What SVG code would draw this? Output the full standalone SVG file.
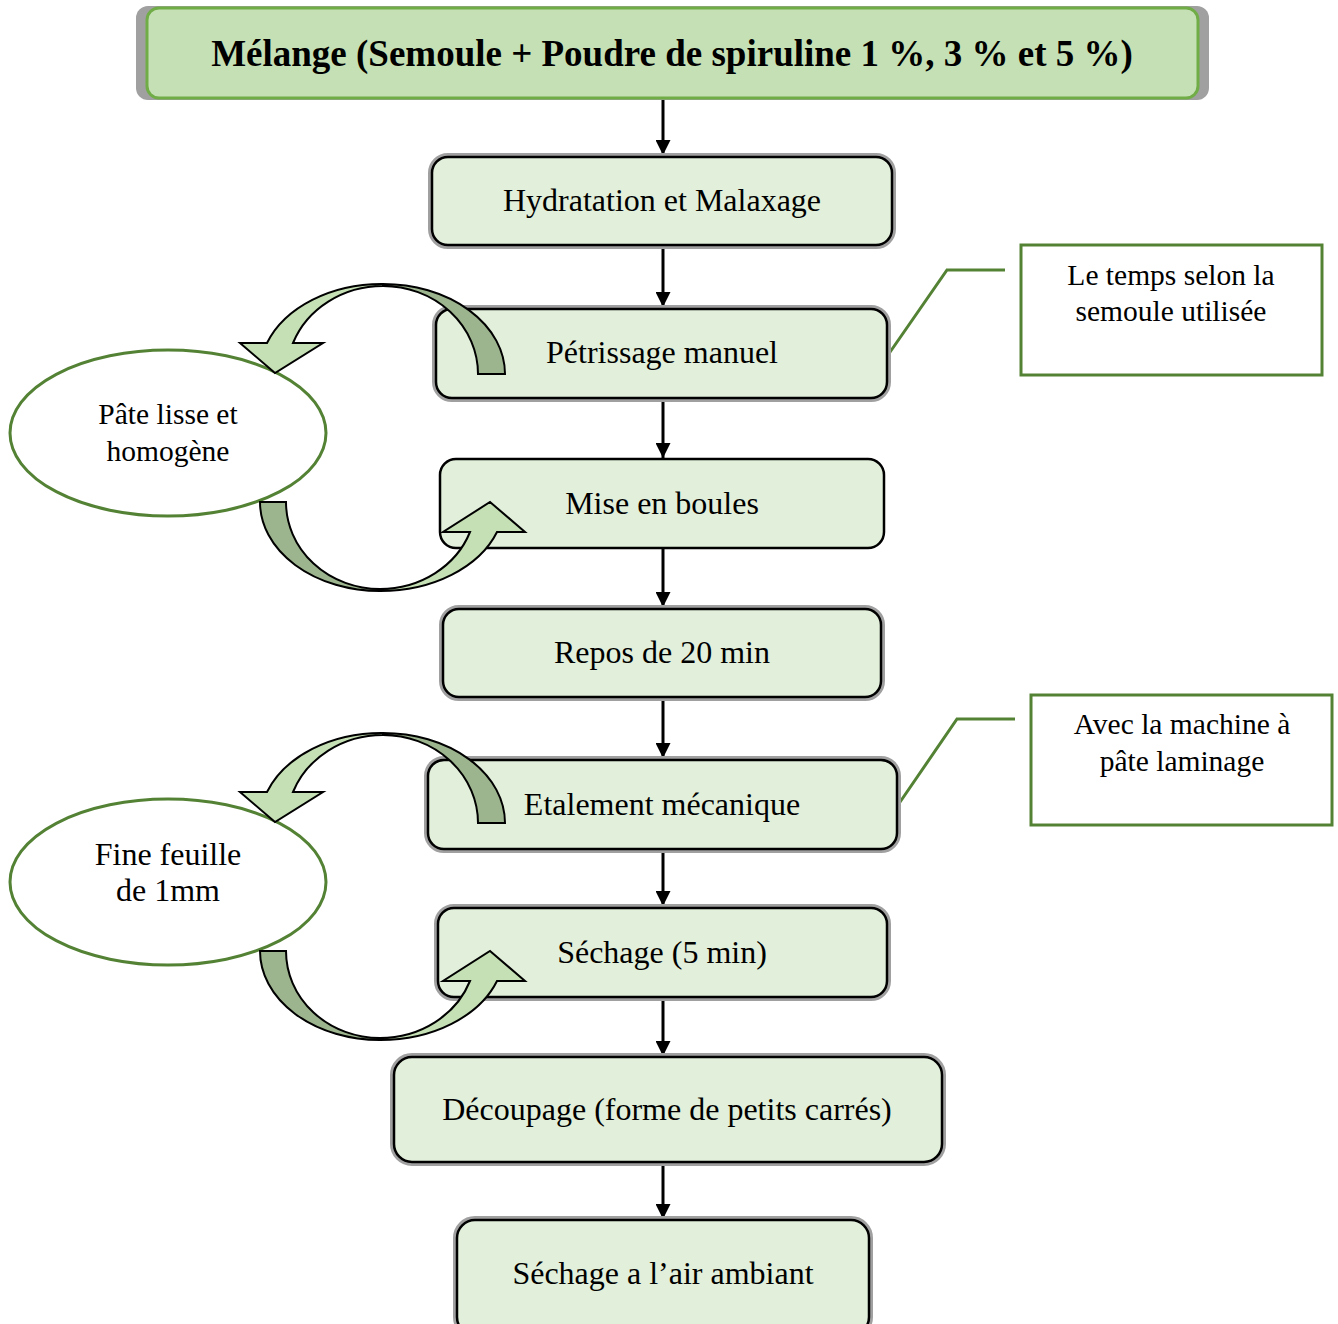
<svg xmlns="http://www.w3.org/2000/svg" width="1338" height="1324" viewBox="0 0 1338 1324">
<style>
.halo{fill:none;stroke:#a0a0a0;stroke-width:8}
.box{fill:#e2efda;stroke:#000;stroke-width:2.5}
.t{font-family:"Liberation Serif","Times New Roman",serif;font-size:32px;fill:#000;text-anchor:middle}
.s{font-family:"Liberation Serif","Times New Roman",serif;font-size:29.5px;fill:#000;text-anchor:middle}
.call{fill:#fff;stroke:#548235;stroke-width:3}
.lead{fill:none;stroke:#548235;stroke-width:3}
.ell{fill:#fff;stroke:#548235;stroke-width:3}
.dark{fill:#9db58e;stroke:#000;stroke-width:2}
.light{fill:#c5e0b4;stroke:#000;stroke-width:2}
.conn{stroke:#000;stroke-width:3;fill:none}
</style>
<defs>
<marker id="ah" viewBox="0 0 10 10" refX="10" refY="5" markerWidth="5" markerHeight="5" markerUnits="strokeWidth" orient="auto">
<path d="M0,0 L10,5 L0,10 z" fill="#000"/>
</marker>
<g id="loopTop">
<path class="dark" d="M505,374 A122,90 0 0 0 383,284 L383,286 A95,88 0 0 1 478,374 Z"/>
<path class="light" d="M383,284 A122,90 0 0 0 267,343 L240,343 L275,373 L323,343 L293,343 A96,88 0 0 1 383,286 Z"/>
</g>
<g id="loopBot">
<path class="dark" d="M260,502 A120,89 0 0 0 380,591 L380,589 A94,87 0 0 1 286,502 Z"/>
<path class="light" d="M380,591 A124,89 0 0 0 497,532 L525,532 L490,502 L443,532 L470,532 A96,87 0 0 1 380,589 Z"/>
</g>
</defs>

<g id="connectors">
<line class="conn" x1="663" y1="100" x2="663" y2="155" marker-end="url(#ah)"/>
<line class="conn" x1="663" y1="247" x2="663" y2="307" marker-end="url(#ah)"/>
<line class="conn" x1="663" y1="400" x2="663" y2="458" marker-end="url(#ah)"/>
<line class="conn" x1="663" y1="549" x2="663" y2="607" marker-end="url(#ah)"/>
<line class="conn" x1="663" y1="699" x2="663" y2="758" marker-end="url(#ah)"/>
<line class="conn" x1="663" y1="851" x2="663" y2="906" marker-end="url(#ah)"/>
<line class="conn" x1="663" y1="999" x2="663" y2="1056" marker-end="url(#ah)"/>
<line class="conn" x1="663" y1="1164" x2="663" y2="1219" marker-end="url(#ah)"/>
<polyline class="lead" points="888,355 947,270 1005,270"/>
<polyline class="lead" points="898,805 957,719 1015,719"/>
</g>

<g id="n-melange">
<rect x="136" y="6" width="1073" height="94" rx="12" fill="#a0a0a0"/>
<rect x="147" y="8" width="1051" height="90" rx="12" fill="#c5e0b4" stroke="#70ad47" stroke-width="3"/>
<text x="672" y="66" font-family="Liberation Serif,'Times New Roman',serif" font-weight="bold" font-size="37" text-anchor="middle">Mélange (Semoule + Poudre de spiruline 1 %, 3 % et 5 %)</text>
</g>

<g id="n-hydratation">
<rect class="halo" x="432" y="157" width="460" height="88" rx="16"/>
<rect class="box" x="432" y="157" width="460" height="88" rx="16"/>
<text class="t" x="662" y="211">Hydratation et Malaxage</text>
</g>

<g id="n-petrissage">
<rect class="halo" x="436" y="309" width="451" height="89" rx="16"/>
<rect class="box" x="436" y="309" width="451" height="89" rx="16"/>
<text class="t" x="662" y="363">Pétrissage manuel</text>
</g>

<g id="n-boules">
<rect class="box" x="440" y="459" width="444" height="89" rx="16"/>
<text class="t" x="662" y="514">Mise en boules</text>
</g>

<g id="n-repos">
<rect class="halo" x="443" y="609" width="438" height="88" rx="16"/>
<rect class="box" x="443" y="609" width="438" height="88" rx="16"/>
<text class="t" x="662" y="663">Repos de 20 min</text>
</g>

<g id="n-etalement">
<rect class="halo" x="428" y="760" width="469" height="89" rx="16"/>
<rect class="box" x="428" y="760" width="469" height="89" rx="16"/>
<text class="t" x="662" y="815">Etalement mécanique</text>
</g>

<g id="n-sechage1">
<rect class="halo" x="438" y="908" width="449" height="89" rx="16"/>
<rect class="box" x="438" y="908" width="449" height="89" rx="16"/>
<text class="t" x="662" y="963">Séchage (5 min)</text>
</g>

<g id="n-decoupage">
<rect class="halo" x="394" y="1057" width="548" height="105" rx="18"/>
<rect class="box" x="394" y="1057" width="548" height="105" rx="18"/>
<text class="t" x="667" y="1120">Découpage (forme de petits carrés)</text>
</g>

<g id="n-sechage2">
<rect class="halo" x="457" y="1220" width="412" height="115" rx="18"/>
<rect class="box" x="457" y="1220" width="412" height="115" rx="18"/>
<text class="t" x="663" y="1284">Séchage a l’air ambiant</text>
</g>

<g id="n-note1">
<rect class="call" x="1021" y="245" width="301" height="130"/>
<text class="s" x="1171" y="285">Le temps selon la</text>
<text class="s" x="1171" y="321">semoule utilisée</text>
</g>

<g id="n-note2">
<rect class="call" x="1031" y="695" width="301" height="130"/>
<text class="s" x="1182" y="734">Avec la machine à</text>
<text class="s" x="1182" y="771">pâte laminage</text>
</g>

<g id="n-pate">
<ellipse class="ell" cx="168" cy="433" rx="158" ry="83"/>
<text class="s" x="168" y="424">Pâte lisse et</text>
<text class="s" x="168" y="461">homogène</text>
</g>

<g id="n-feuille">
<ellipse class="ell" cx="168" cy="882" rx="158" ry="83"/>
<text class="t" x="168" y="865">Fine feuille</text>
<text class="t" x="168" y="901">de 1mm</text>
</g>

<g id="loops">
<use href="#loopTop"/>
<use href="#loopBot"/>
<use href="#loopTop" transform="translate(0,449)"/>
<use href="#loopBot" transform="translate(0,449)"/>
</g>
</svg>
